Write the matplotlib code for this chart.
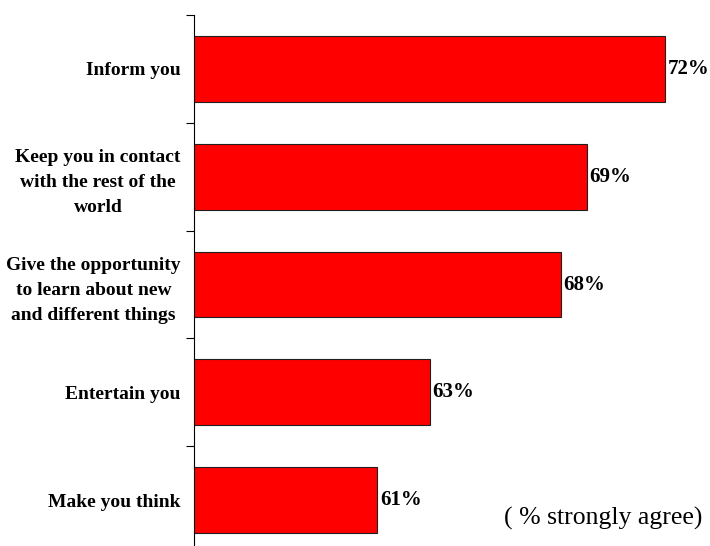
import matplotlib.pyplot as plt
from matplotlib.ticker import FixedLocator

categories = [
    "Inform you",
    "Keep you in contact\nwith the rest of the\nworld",
    "Give the opportunity\nto learn about new\nand different things",
    "Entertain you",
    "Make you think",
]
values = [72, 69, 68, 63, 61]

plt.rcParams["font.family"] = ["Liberation Serif", "DejaVu Serif"]

fig = plt.figure(figsize=(7.1, 5.46), dpi=100)
ax = fig.add_axes([194 / 710, -8 / 546, 510 / 710, 539 / 546])

ypos = list(range(len(categories)))
ax.barh(ypos, values, height=0.61, color="#ff0000", edgecolor="#202020", linewidth=0.8)

ax.set_xlim(54, 54 + 510 / 26.18)
ax.set_ylim(len(categories) - 0.5, -0.5)

for y, v in zip(ypos, values):
    ax.text(v + 0.1, y, f"{v}%", va="center", ha="left", fontsize=15,
            fontweight="bold")

ax.set_yticks(ypos)
ax.set_yticklabels(categories, fontsize=14, fontweight="bold", linespacing=1.6,
                   ha="right", multialignment="center")
ax.tick_params(axis="y", which="major", length=0, pad=9.5)
ax.yaxis.set_minor_locator(FixedLocator([i - 0.5 for i in range(len(categories) + 1)]))
ax.tick_params(axis="y", which="minor", length=6, width=0.8, direction="out")

for side in ["top", "right", "bottom"]:
    ax.spines[side].set_visible(False)
ax.spines["left"].set_linewidth(0.8)
ax.set_xticks([])

fig.text(603 / 710, 1 - 518 / 546, "( % strongly agree)", ha="center", va="center",
         fontsize=18.5)

fig.savefig("out.png", dpi=100)
